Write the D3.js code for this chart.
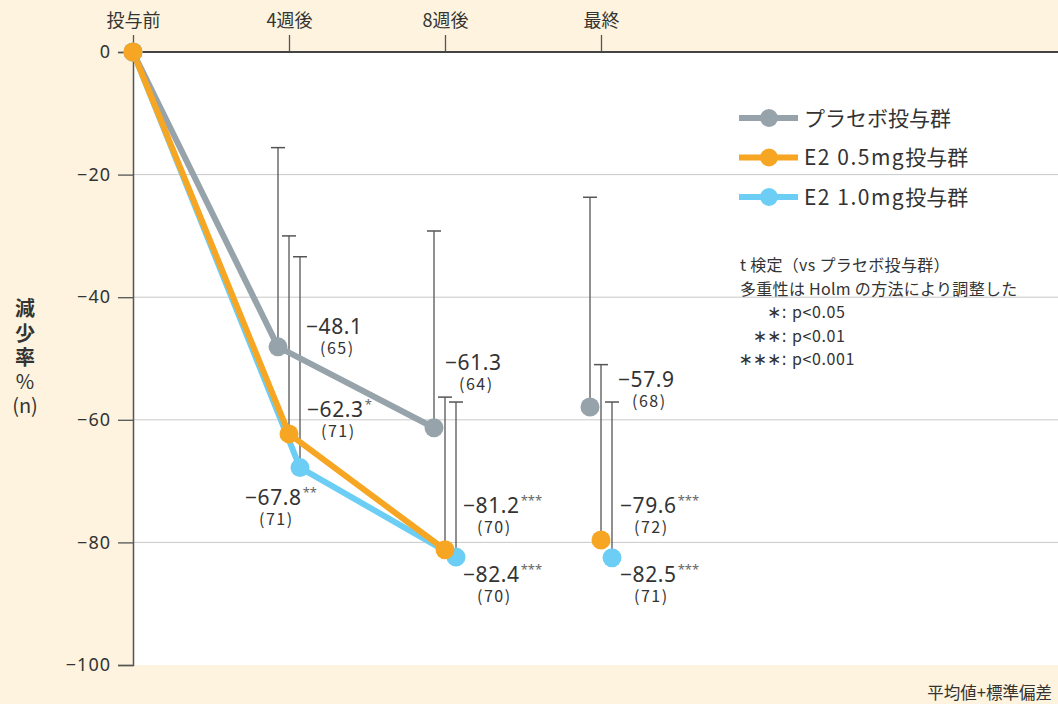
<!DOCTYPE html>
<html lang="ja">
<head>
<meta charset="utf-8">
<script src="https://cdn.jsdelivr.net/npm/d3@7"></script>
<style>
  html, body { margin: 0; padding: 0; background: #FDF3DE; }
  svg { display: block; }
  text { fill: #333; }
</style>
</head>
<body>
<svg id="chart" width="1058" height="704"></svg>
<script>
// ---- data ----------------------------------------------------------------
const categories = ["投与前", "4週後", "8週後", "最終"];
const yTicks = [0, -20, -40, -60, -80, -100];

const seriesNames = ["プラセボ投与群", "E2 0.5mg投与群", "E2 1.0mg投与群"];

// mean change (%), standard deviation, group size and significance marks
const placeboMean = [0, -48.1, -61.3, -57.9];
const placeboSD   = [null, 32.5, 32.1, 34.2];
const placeboN    = [null, 65, 64, 68];
const placeboSig  = ["", "", "", ""];

const e2LowMean = [0, -62.3, -81.2, -79.6];
const e2LowSD   = [null, 32.3, 24.9, 28.6];
const e2LowN    = [null, 71, 70, 72];
const e2LowSig  = ["", "*", "***", "***"];

const e2HighMean = [0, -67.8, -82.4, -82.5];
const e2HighSD   = [null, 34.4, 25.3, 25.4];
const e2HighN    = [null, 71, 70, 71];
const e2HighSig  = ["", "**", "***", "***"];

const noteLines = ["t 検定（vs プラセボ投与群）", "多重性は Holm の方法により調整した"];
const sigKeys = ["∗", "∗∗", "∗∗∗"];
const sigTexts = ["p<0.05", "p<0.01", "p<0.001"];
const yTitle = ["減", "少", "率", "%", "(n)"];
const footnote = "平均値+標準偏差";

// ---- layout & style -----------------------------------------------------
const W = 1058, H = 704;
const plot = { left: 133, top: 52, right: 1058, bottom: 665 };
const colors = ["#96A3AA", "#F6A623", "#6CCEF5"];
const dx = [-11, 0, 11];            // side-by-side offset per group
// value-label placement relative to each point: [dx, dy]
const labelPos = [
  [null, [28, -13], [11, -58], [28, -20]],
  [null, [18, -17], [18, -37], [19, -27]],
  [null, [-55, 37], [7, 25], [8, 24]]
];
const numFont = "'Noto Sans', 'DejaVu Sans', sans-serif";
const jpFont = "'Noto Sans CJK JP', 'Noto Sans', sans-serif";

const series = [
  { name: seriesNames[0], mean: placeboMean, sd: placeboSD, n: placeboN, sig: placeboSig },
  { name: seriesNames[1], mean: e2LowMean, sd: e2LowSD, n: e2LowN, sig: e2LowSig },
  { name: seriesNames[2], mean: e2HighMean, sd: e2HighSD, n: e2HighN, sig: e2HighSig }
].map((s, i) => ({ ...s, color: colors[i], off: dx[i], labels: labelPos[i] }));

const svg = d3.select("#chart");

const x = d3.scalePoint().domain(categories).range([plot.left, 601]);
const y = d3.scaleLinear().domain([-100, 0]).range([plot.bottom, plot.top]);

// point x with group offset (baseline shared by all groups)
const px = (s, i) => x(categories[i]) + (i === 0 ? 0 : s.off);

// ---- background & grid ---------------------------------------------------
svg.append("rect").attr("width", W).attr("height", H).attr("fill", "#FDF3DE");
svg.append("rect")
  .attr("x", plot.left).attr("y", plot.top)
  .attr("width", plot.right - plot.left).attr("height", plot.bottom - plot.top)
  .attr("fill", "#fff");

svg.append("g").selectAll("line")
  .data(yTicks.filter(v => v !== 0 && v !== -100))
  .join("line")
  .attr("x1", plot.left).attr("x2", plot.right)
  .attr("y1", d => y(d)).attr("y2", d => y(d))
  .attr("stroke", "#C9C9C9").attr("stroke-width", 1);

// ---- axes ----------------------------------------------------------------
const fmt = d => (d < 0 ? "−" + Math.abs(d) : String(d));

const yAxis = svg.append("g")
  .attr("transform", `translate(${plot.left},0)`)
  .call(d3.axisLeft(y).tickValues(yTicks).tickSize(15).tickPadding(7).tickFormat(fmt));
yAxis.select(".domain").attr("stroke", "#555").attr("stroke-width", 1.5);
yAxis.selectAll(".tick line").attr("stroke", "#555").attr("stroke-width", 1.3);
yAxis.selectAll(".tick text")
  .attr("font-family", numFont).attr("font-size", 18).attr("letter-spacing", 1)
  .attr("fill", "#333");

const xAxis = svg.append("g")
  .attr("transform", `translate(0,${plot.top})`)
  .call(d3.axisTop(x).tickSize(17).tickPadding(8));
xAxis.select(".domain").remove();
xAxis.selectAll(".tick line").attr("stroke", "#555").attr("stroke-width", 1.3);
xAxis.selectAll(".tick text")
  .attr("font-family", jpFont).attr("font-size", 18).attr("fill", "#333");

svg.append("line")
  .attr("x1", plot.left).attr("x2", plot.right)
  .attr("y1", y(0)).attr("y2", y(0))
  .attr("stroke", "#444").attr("stroke-width", 2);

// ---- error bars (mean + SD) ----------------------------------------------
const eb = svg.append("g");
series.forEach(s => {
  s.mean.forEach((m, i) => {
    if (s.sd[i] == null) return;
    const cx = px(s, i);
    const top = y(m + s.sd[i]);
    eb.append("line").attr("x1", cx).attr("x2", cx)
      .attr("y1", y(m)).attr("y2", top)
      .attr("stroke", "#555").attr("stroke-width", 1.3);
    eb.append("line").attr("x1", cx - 7).attr("x2", cx + 7)
      .attr("y1", top).attr("y2", top)
      .attr("stroke", "#555").attr("stroke-width", 1.5);
  });
});

// ---- lines: baseline through week 8; final visit is a stand-alone point ---
const line = d3.line().x(d => d.x).y(d => d.y);
const drawOrder = [2, 0, 1];
drawOrder.forEach(k => {
  const s = series[k];
  const pts = s.mean.slice(0, 3).map((m, i) => ({ x: px(s, i), y: y(m) }));
  svg.append("path").attr("d", line(pts))
    .attr("fill", "none").attr("stroke", s.color)
    .attr("stroke-width", 6).attr("stroke-linejoin", "round");
});

drawOrder.forEach(k => {
  const s = series[k];
  svg.append("g").selectAll("circle")
    .data(s.mean.map((m, i) => ({ m, i })))
    .join("circle")
    .attr("cx", d => px(s, d.i)).attr("cy", d => y(d.m))
    .attr("r", 9.5).attr("fill", s.color);
});

// ---- value labels: mean (with significance) over group size ---------------
const lab = svg.append("g");
series.forEach(s => {
  s.mean.forEach((m, i) => {
    const p = s.labels[i];
    if (!p) return;
    const lx = px(s, i) + p[0];
    const ly = y(m) + p[1];
    const t = lab.append("text")
      .attr("x", lx).attr("y", ly)
      .attr("font-family", numFont).attr("font-size", 21);
    t.append("tspan").attr("letter-spacing", 0.6).text("−" + Math.abs(m).toFixed(1));
    if (s.sig[i]) {
      t.append("tspan").attr("font-size", 13).attr("dy", -8).attr("fill", "#666")
        .attr("dx", 1).text(s.sig[i]);
    }
    t.append("tspan")
      .attr("x", lx + 14).attr("y", ly + 20)
      .attr("font-family", jpFont).attr("font-size", 16).attr("letter-spacing", 1.5)
      .text(`(${s.n[i]})`);
  });
});

// ---- legend ---------------------------------------------------------------
const legend = svg.append("g").attr("transform", "translate(739,118)");
series.forEach((s, i) => {
  const g = legend.append("g").attr("transform", `translate(0,${i * 39.5})`);
  g.append("line").attr("x1", 0).attr("x2", 59).attr("y1", 0).attr("y2", 0)
    .attr("stroke", s.color).attr("stroke-width", 6);
  g.append("circle").attr("cx", 30).attr("cy", 0).attr("r", 9).attr("fill", s.color);
  const t = g.append("text").attr("x", 65).attr("y", 0).attr("dy", "0.36em")
    .attr("font-family", jpFont).attr("font-size", 21).attr("fill", "#333");
  const m = s.name.match(/^([A-Za-z0-9. ]*)(.*)$/);
  if (m[1]) t.append("tspan").attr("letter-spacing", 1.5).text(m[1]);
  t.append("tspan").text(m[2]);
});

// ---- statistics note ------------------------------------------------------
const note = svg.append("g").attr("font-family", jpFont).attr("font-size", 16);
noteLines.forEach((t, i) => {
  note.append("text").attr("x", 740).attr("y", 271 + i * 23.6)
    .attr("letter-spacing", 0.3).text(t);
});
sigKeys.forEach((k, i) => {
  const by = 271 + (i + 2) * 23.6;
  note.append("text").attr("x", 787).attr("y", by).attr("text-anchor", "end")
    .attr("font-family", "'DejaVu Sans', sans-serif").attr("font-size", 17)
    .text(k + ":");
  note.append("text").attr("x", 792).attr("y", by).attr("letter-spacing", 0.6)
    .text(sigTexts[i]);
});

// ---- y-axis title (stacked vertically) -----------------------------------
const yt = svg.append("g").attr("font-family", jpFont).attr("font-size", 20)
  .attr("text-anchor", "middle");
yTitle.forEach((c, i) => {
  yt.append("text").attr("x", 25).attr("y", 309 + i * 24.3).attr("dy", "0.36em")
    .attr("font-weight", i < 3 ? 700 : 400).text(c);
});

// ---- footnote -------------------------------------------------------------
svg.append("text").attr("x", 1052).attr("y", 699).attr("text-anchor", "end")
  .attr("font-family", jpFont).attr("font-size", 16.5).text(footnote);
</script>
</body>
</html>
